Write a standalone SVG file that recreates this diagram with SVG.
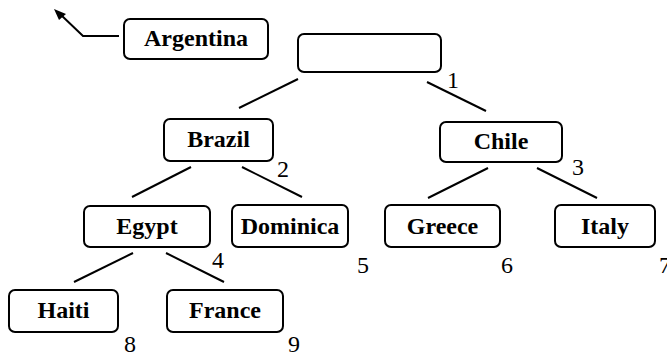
<svg xmlns="http://www.w3.org/2000/svg" width="667" height="356" viewBox="0 0 667 356">
<style>
.box{fill:#fff;stroke:#000;stroke-width:2}
.edge{stroke:#000;stroke-width:2;fill:none}
</style>
<g id="connectors">
<polyline class="edge" points="119,36 83,36 60,14"/>
<polygon points="54,9 66,14 59,20" fill="#000"/>
<line class="edge" x1="298" y1="79" x2="239" y2="108"/>
<line class="edge" x1="427" y1="82" x2="486" y2="111"/>
<line class="edge" x1="191" y1="167" x2="132" y2="197"/>
<line class="edge" x1="242" y1="167" x2="302" y2="197"/>
<line class="edge" x1="488" y1="168" x2="428" y2="198"/>
<line class="edge" x1="537" y1="168" x2="597" y2="198"/>
<line class="edge" x1="133" y1="253" x2="74" y2="282"/>
<line class="edge" x1="166" y1="253" x2="224" y2="282"/>
</g>
<g font-family="Liberation Serif, Times New Roman, DejaVu Serif, serif" font-weight="bold" font-size="24" text-anchor="middle" fill="#000">
<g id="argentina"><rect class="box" x="124" y="19" width="144" height="40" rx="6"/><text x="196" y="46">Argentina</text></g>
<g id="root"><rect class="box" x="298" y="34" width="143" height="38" rx="6"/></g>
<g id="brazil"><rect class="box" x="164" y="119" width="109" height="42" rx="6"/><text x="218.5" y="147">Brazil</text></g>
<g id="chile"><rect class="box" x="440" y="122" width="122" height="40" rx="6"/><text x="501" y="149">Chile</text></g>
<g id="egypt"><rect class="box" x="84" y="206" width="126" height="41" rx="6"/><text x="147" y="234">Egypt</text></g>
<g id="dominica"><rect class="box" x="232" y="205" width="116" height="42" rx="6"/><text x="290" y="234">Dominica</text></g>
<g id="greece"><rect class="box" x="385" y="205" width="115" height="42" rx="6"/><text x="442.5" y="234">Greece</text></g>
<g id="italy"><rect class="box" x="555" y="205" width="100" height="42" rx="6"/><text x="605" y="234">Italy</text></g>
<g id="haiti"><rect class="box" x="9" y="290" width="109" height="42" rx="6"/><text x="63.5" y="318">Haiti</text></g>
<g id="france"><rect class="box" x="167" y="290" width="116" height="42" rx="6"/><text x="225" y="318">France</text></g>
</g>
<g id="numbers" font-family="Liberation Serif, Times New Roman, DejaVu Serif, serif" font-size="24" text-anchor="middle" fill="#000">
<text x="453" y="88">1</text>
<text x="283" y="177">2</text>
<text x="578" y="175">3</text>
<text x="218" y="268">4</text>
<text x="363" y="273">5</text>
<text x="507" y="273">6</text>
<text x="665" y="273">7</text>
<text x="130" y="352">8</text>
<text x="294" y="352">9</text>
</g>
</svg>
